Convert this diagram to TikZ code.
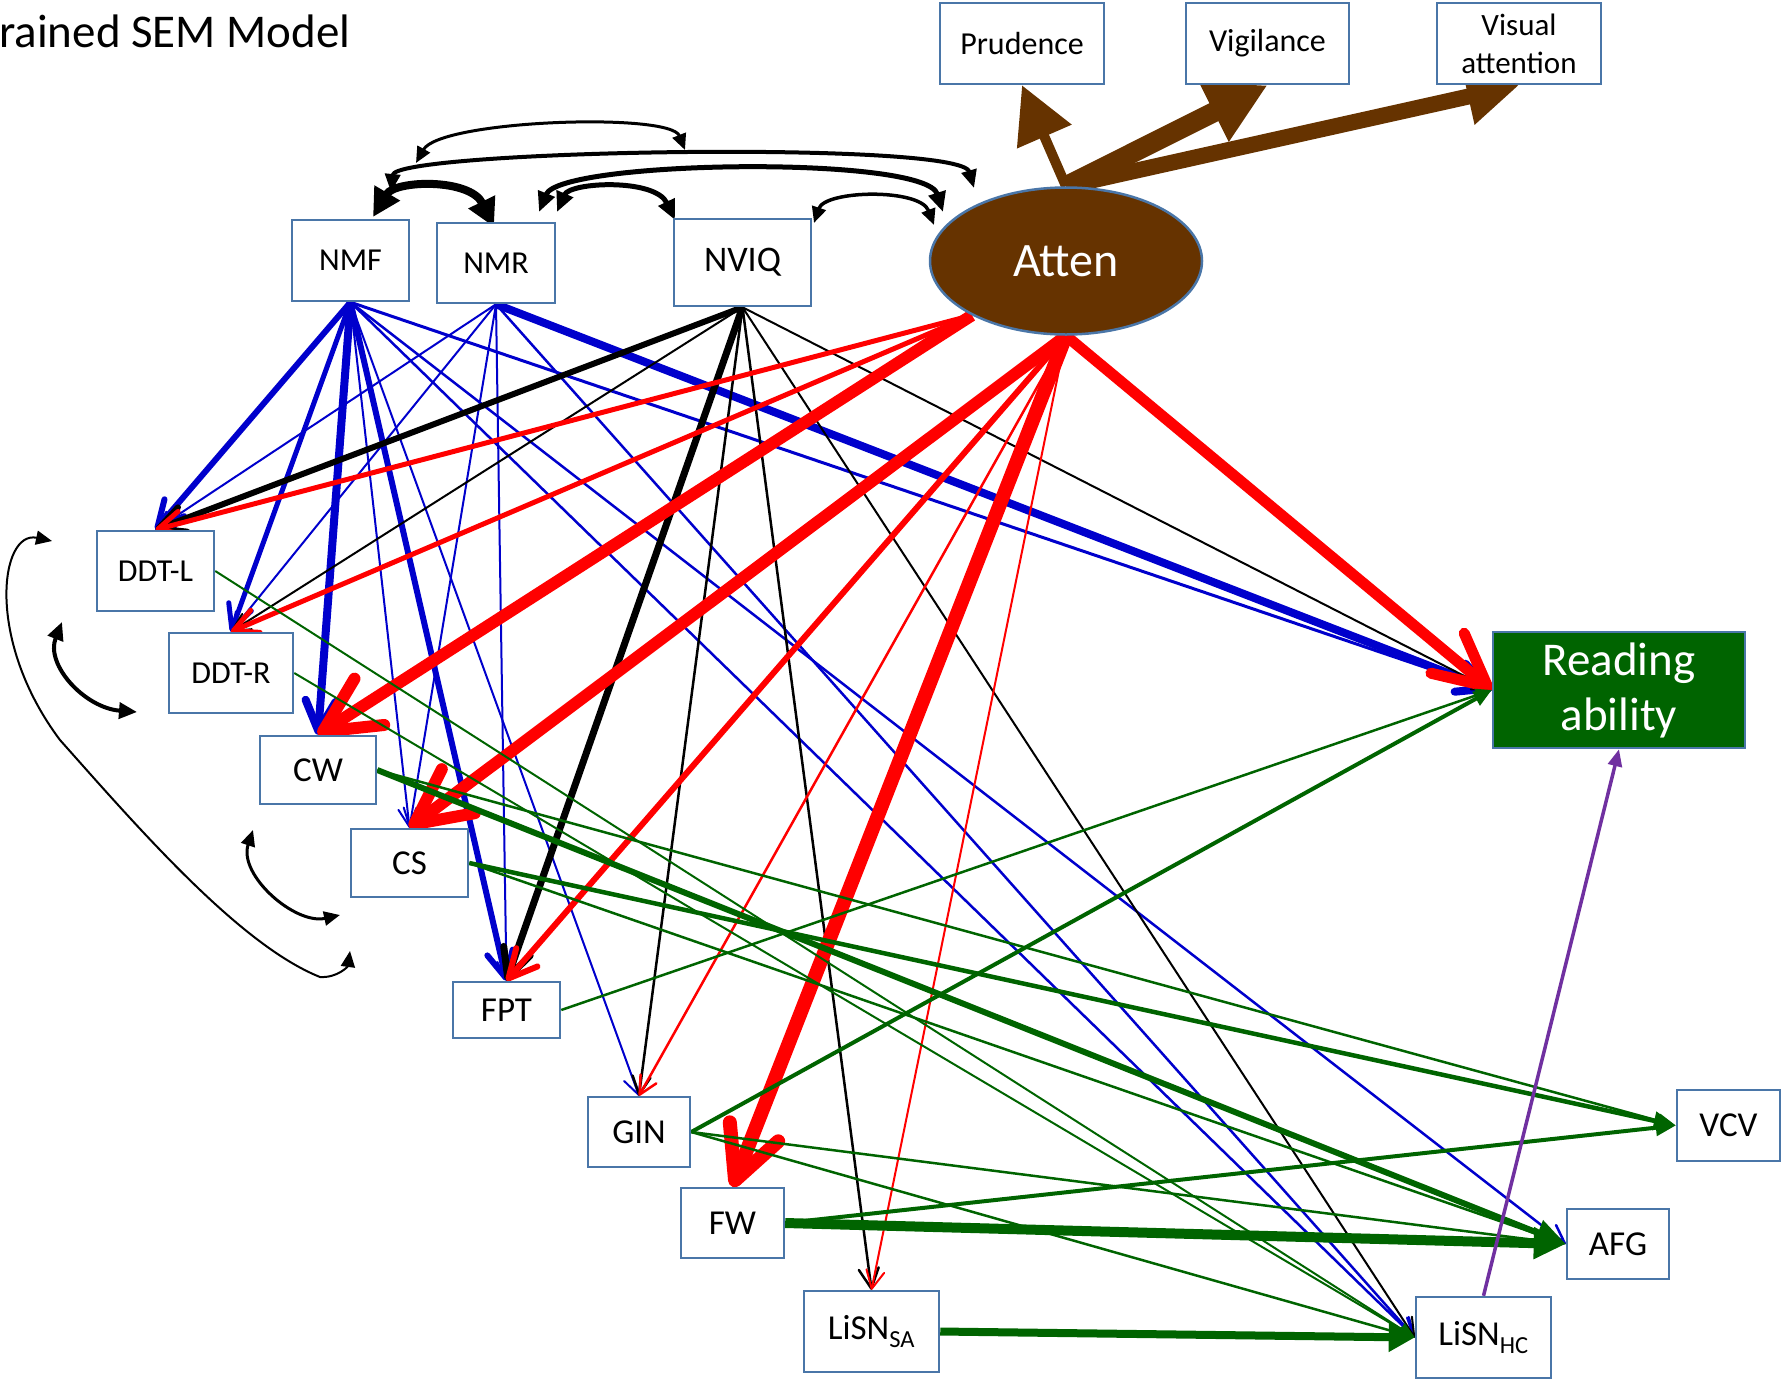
\documentclass[tikz,border=0pt]{standalone}
\usepackage{fontspec}
\setmainfont{Carlito}
\usetikzlibrary{arrows.meta,shapes.geometric}
\pgfdeclarelayer{edges}
\pgfsetlayers{edges,main}

\definecolor{boxblue}{RGB}{74,118,168}
\definecolor{cblue}{RGB}{0,0,204}
\definecolor{cred}{RGB}{255,0,0}
\definecolor{cgreen}{RGB}{0,100,0}
\definecolor{cbrown}{RGB}{102,51,0}
\definecolor{cpurple}{RGB}{112,48,160}

\tikzset{
  box/.style={draw=boxblue, line width=2.5pt, fill=white, inner sep=0pt, align=center, text=black},
  lab/.style={font=\fontsize{32}{38}\selectfont},
  labb/.style={font=\fontsize{35}{42}\selectfont},
  ob/.style={-{Straight Barb[length=#1pt,width=#1pt,round]}},
  ft/.style 2 args={-{Triangle[length=#1pt,width=#2pt]}},
  cov/.style 2 args={black, {Triangle[length=#1pt,width=#2pt]}-{Triangle[length=#1pt,width=#2pt]}},
}

\begin{document}
\begin{tikzpicture}[x=1pt,y=-1pt]
\useasboundingbox (0,0) rectangle (1783,1379);

% title
\node[anchor=base west, inner sep=0pt, font=\fontsize{47}{56}\selectfont] (title) at (-1,47) {rained SEM Model};

% indicators of attention
\node[box, lab, minimum width=164pt, minimum height=81pt] (prud) at (1022,43.5) {Prudence};
\node[box, lab, minimum width=163pt, minimum height=81pt] (vig) at (1267.5,43.5) {Vigilance};
\node[box, minimum width=164pt, minimum height=81pt, font=\fontsize{31}{38}\selectfont] (vis) at (1519,43.5) {Visual\\attention};

% latent factor
\node[ellipse, draw=boxblue, line width=2.5pt, fill=cbrown, inner sep=0pt,
      minimum width=272pt, minimum height=147pt, text=white,
      font=\fontsize{48}{56}\selectfont] (atten) at (1066,261) {Atten};

% predictors
\node[box, lab, minimum width=117pt, minimum height=81pt] (nmf) at (350.5,260.5) {NMF};
\node[box, lab, minimum width=118pt, minimum height=80pt] (nmr) at (496,263) {NMR};
\node[box, font=\fontsize{36}{43}\selectfont, minimum width=137pt, minimum height=87pt] (nviq) at (742.5,262.5) {NVIQ};

% outcome
\node[box, fill=cgreen, text=white, minimum width=252pt, minimum height=116pt,
      font=\fontsize{47}{55}\selectfont] (read) at (1619,690) {Reading\\ability};

% measures
\node[box, lab, minimum width=117pt, minimum height=80pt] (ddtl) at (155.5,571) {DDT-L};
\node[box, lab, minimum width=124pt, minimum height=80pt] (ddtr) at (231,673) {DDT-R};
\node[box, labb, minimum width=116pt, minimum height=68pt] (cw) at (318,770) {CW};
\node[box, labb, minimum width=117pt, minimum height=68pt] (cs) at (409.5,863) {CS};
\node[box, labb, minimum width=107pt, minimum height=56pt] (fpt) at (506.5,1010) {FPT};
\node[box, labb, minimum width=102pt, minimum height=70pt] (gin) at (639,1132) {GIN};
\node[box, labb, minimum width=103pt, minimum height=70pt] (fw) at (732.5,1223) {FW};
\node[box, labb, minimum width=135pt, minimum height=81pt] (lsa) at (871.5,1331.5) {LiSN\textsubscript{SA}};
\node[box, labb, minimum width=135pt, minimum height=81pt] (lhc) at (1483.5,1337.5) {LiSN\textsubscript{HC}};
\node[box, labb, minimum width=102pt, minimum height=70pt] (afg) at (1618,1244) {AFG};
\node[box, labb, minimum width=103pt, minimum height=71pt] (vcv) at (1728.5,1125.5) {VCV};

% free ends of the covariance arcs
\coordinate (k1a) at (373,217);  \coordinate (k1b) at (494,227);
\coordinate (k2a) at (557,212);  \coordinate (k2b) at (675,220);
\coordinate (k3a) at (539,212);  \coordinate (k3b) at (943,212);
\coordinate (k4a) at (814,223);  \coordinate (k4b) at (934,225);
\coordinate (k5a) at (391,192);  \coordinate (k5b) at (974,188);
\coordinate (k6a) at (416,163);  \coordinate (k6b) at (685,150);
\coordinate (k7a) at (52,541);   \coordinate (k7b) at (350,951);
\coordinate (k8a) at (62,622);   \coordinate (k8b) at (137,712);
\coordinate (k9a) at (253,830);  \coordinate (k9b) at (340,915);

\begin{pgfonlayer}{edges}
% loadings of the attention factor
\draw[cbrown, line width=10pt, ft={56}{57}] (atten.north) -- (prud.south);
\draw[cbrown, line width=20pt, ft={60}{62}] (atten.north) -- (vig.south);
\draw[cbrown, line width=16pt, ft={52}{54}] (atten.north) -- (vis.south);

% covariances
\draw[cov={28}{28}, line width=8pt] (k1a) .. controls (395,180) and (470,178) .. (k1b);
\draw[cov={20}{17}, line width=5pt] (k2a) .. controls (570,182) and (655,178) .. (k2b);
\draw[cov={20}{17}, line width=5pt] (k3a) .. controls (560,160) and (925,155) .. (k3b);
\draw[cov={16}{14}, line width=3.5pt] (k4a) .. controls (825,190) and (920,188) .. (k4b);
\draw[cov={18}{15}, line width=4pt] (k5a) .. controls (395,150) and (960,140) .. (k5b);
\draw[cov={16}{14}, line width=3pt] (k6a) .. controls (440,120) and (670,112) .. (k6b);
\draw[cov={16}{14}, line width=2pt] (k7a) .. controls (0,530) and (-15,640) .. (60,740)
      .. controls (140,830) and (240,945) .. (320,977)
      .. controls (338,978) and (348,966) .. (k7b);
\draw[cov={18}{16}, line width=4pt] (k8a) .. controls (45,665) and (85,708) .. (k8b);
\draw[cov={16}{14}, line width=3pt] (k9a) .. controls (238,875) and (295,925) .. (k9b);

% NMF and NMR paths
\draw[cblue, line width=6pt, ob=26] (nmf.south) -- (ddtl.north);
\draw[cblue, line width=5pt, ob=24] (nmf.south) -- (ddtr.north);
\draw[cblue, line width=8pt, ob=30] (nmf.south) -- (cw.north);
\draw[cblue, line width=2pt, ob=18] (nmf.south) -- (cs.north);
\draw[cblue, line width=6pt, ob=26] (nmf.south) -- (fpt.north);
\draw[cblue, line width=2pt, ob=18] (nmf.south) -- (gin.north);
\draw[cblue, line width=2.5pt, ob=18] (nmf.south) -- (lhc.west);
\draw[cblue, line width=2.5pt, ob=18] (nmf.south) -- (afg.west);
\draw[cblue, line width=3pt, ob=18] (nmf.south) -- (read.west);
\draw[cblue, line width=2pt, ob=18] (nmr.south) -- (ddtl.north);
\draw[cblue, line width=2pt, ob=18] (nmr.south) -- (ddtr.north);
\draw[cblue, line width=2pt, ob=18] (nmr.south) -- (cs.north);
\draw[cblue, line width=2pt, ob=18] (nmr.south) -- (fpt.north);
\draw[cblue, line width=2.5pt, ob=18] (nmr.south) -- (lhc.west);
\draw[cblue, line width=8pt, ob=30] (nmr.south) -- (read.west);

% NVIQ paths
\draw[black, line width=6pt, ob=26] (nviq.south) -- (ddtl.north);
\draw[black, line width=2pt, ob=18] (nviq.south) -- (ddtr.north);
\draw[black, line width=7pt, ob=28] (nviq.south) -- (fpt.north);
\draw[black, line width=2.5pt, ob=18] (nviq.south) -- (gin.north);
\draw[black, line width=2.5pt, ob=20] (nviq.south) -- (lsa.north);
\draw[black, line width=2pt, ob=18] (nviq.south) -- (lhc.west);
\draw[black, line width=2pt, ob=18] (nviq.south) -- (read.west);

% attention paths
\draw[cred, line width=5pt, ob=24] (atten.210) -- (ddtl.north);
\draw[cred, line width=5pt, ob=24] (atten.210) -- (ddtr.north);
\draw[cred, line width=12pt, ob=55] (atten.210) -- (cw.north);
\draw[cred, line width=12pt, ob=55] (atten.south) -- (cs.north);
\draw[cred, line width=6pt, ob=28] (atten.south) -- (fpt.north);
\draw[cred, line width=2.5pt, ob=18] (atten.south) -- (gin.north);
\draw[cred, line width=14pt, ob=52] (atten.south) -- (fw.north);
\draw[cred, line width=2pt, ob=18] (atten.south) -- (lsa.north);
\draw[cred, line width=11pt, ob=52] (atten.south) -- (read.west);

% paths between measures
\draw[cgreen, line width=2pt, ft={16}{13}] (ddtl.east) -- (lhc.west);
\draw[cgreen, line width=2pt, ft={16}{13}] (ddtr.east) -- (lhc.west);
\draw[cgreen, line width=6pt, ft={30}{26}] (cw.east) -- (afg.west);
\draw[cgreen, line width=2.5pt, ft={18}{14}] (cw.east) -- (vcv.west);
\draw[cgreen, line width=4.5pt, ft={22}{18}] (cs.east) -- (vcv.west);
\draw[cgreen, line width=2.5pt, ft={16}{13}] (cs.east) -- (afg.west);
\draw[cgreen, line width=2.5pt, ft={16}{13}] (fpt.east) -- (read.west);
\draw[cgreen, line width=4pt, ft={18}{15}] (gin.east) -- (read.west);
\draw[cgreen, line width=2.5pt, ft={16}{13}] (gin.east) -- (afg.west);
\draw[cgreen, line width=2.5pt, ft={16}{13}] (gin.east) -- (lhc.west);
\draw[cgreen, line width=10pt, ft={32}{30}] (fw.east) -- (afg.west);
\draw[cgreen, line width=4pt, ft={20}{16}] (fw.east) -- (vcv.west);
\draw[cgreen, line width=8pt, ft={26}{28}] (lsa.east) -- (lhc.west);
\draw[cpurple, line width=3.5pt, ft={17}{14}] (lhc.north) -- (read.south);
\end{pgfonlayer}
\end{tikzpicture}
\end{document}
